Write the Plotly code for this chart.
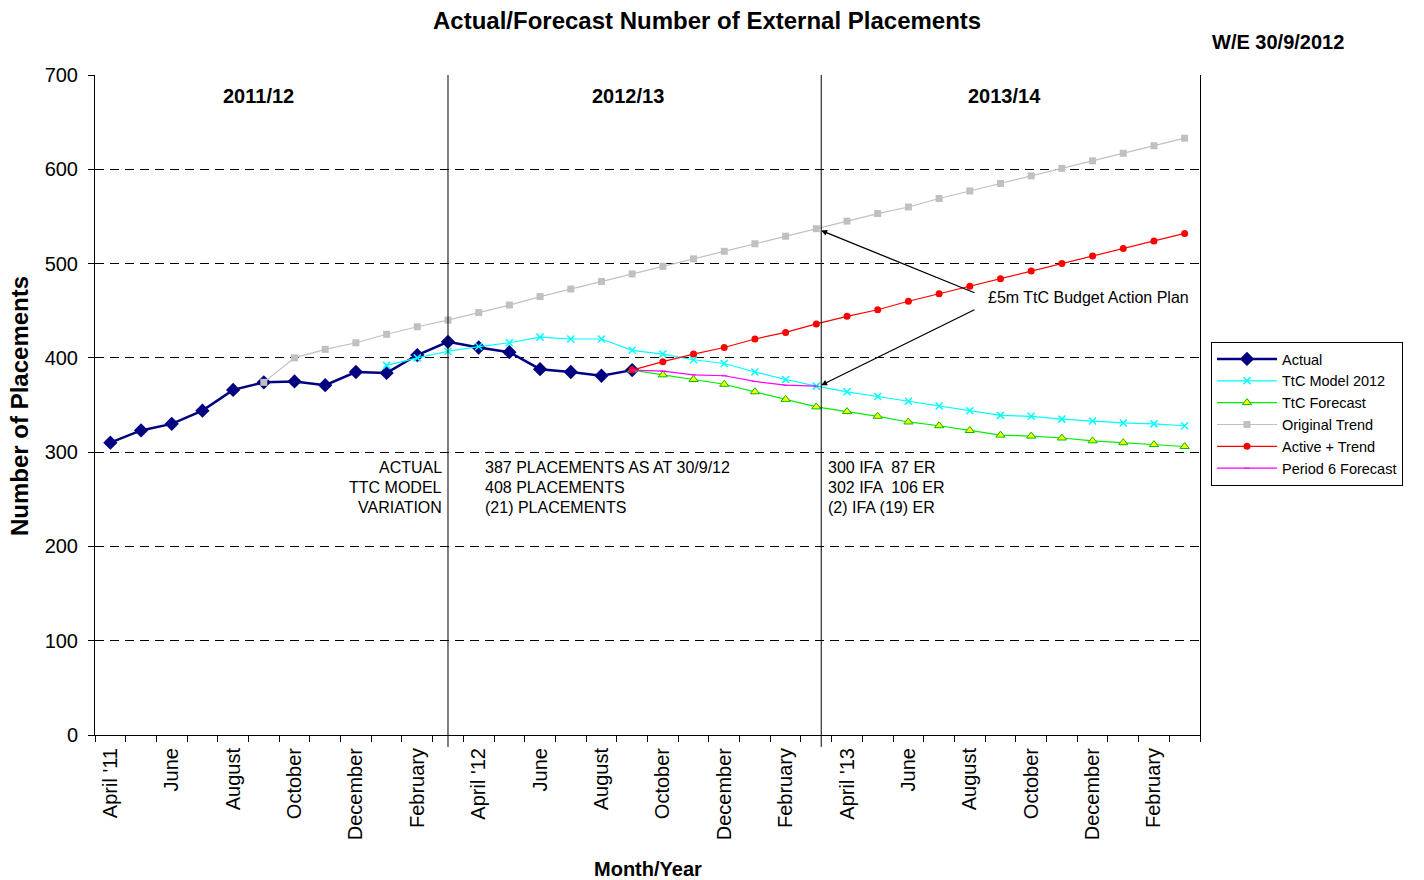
import plotly.graph_objects as go

FONT = "Liberation Sans, Arial, sans-serif"

# ---- data ----
n_months = 36
month_idx = list(range(n_months))
tick_text = ["April '11", "June", "August", "October", "December", "February",
             "April '12", "June", "August", "October", "December", "February",
             "April '13", "June", "August", "October", "December", "February"]
tick_idx = list(range(0, n_months, 2))

N = None
actual = [310, 323, 330, 344, 366, 374, 375, 371, 385, 384, 403, 417,
          411, 406, 388, 385, 381, 387] + [N] * 18
ttc_model = [N] * 9 + [392, 400, 407,
                       412, 416, 422, 420, 420, 408, 404, 398, 394, 385, 377, 370,
                       364, 359, 354, 349, 344, 339, 338, 335, 333, 331, 330, 328]
ttc_forecast = [N] * 17 + [387, 382, 377, 372, 364, 356, 348,
                           343, 338, 332, 328, 323, 318, 317, 315, 312, 310, 308, 306]
original_trend = [N] * 5 + [374, 400, 409, 416, 425, 433, 440,
                            448, 456, 465, 473, 481, 489, 497, 505, 513, 521, 529, 537,
                            545, 553, 560, 569, 577, 585, 593, 601, 609, 617, 625, 633]
active_trend = [N] * 17 + [387, 396, 404, 411, 420, 427, 436,
                           444, 451, 460, 468, 476, 484, 492, 500, 508, 516, 524, 532]
period6 = [N] * 17 + [387, 386, 382, 381, 375, 371, 370] + [N] * 12

year_labels = ["2011/12", "2012/13", "2013/14"]
year_label_x = [4.82, 16.87, 29.12]
year_bounds = [11, 23.16]

summary_left = ["ACTUAL", "TTC MODEL", "VARIATION"]
summary_mid = ["387 PLACEMENTS AS AT 30/9/12", "408 PLACEMENTS", "(21) PLACEMENTS"]
summary_right = ["300 IFA  87 ER", "302 IFA  106 ER", "(2) IFA (19) ER"]
summary_y = [284.2, 262.0, 240.8]

fig = go.Figure()
fig.add_trace(go.Scatter(x=month_idx, y=actual, name="Actual", mode="lines+markers",
                         line=dict(color="#000080", width=2.5),
                         marker=dict(symbol="diamond", size=11, color="#000080")))
fig.add_trace(go.Scatter(x=month_idx, y=ttc_model, name="TtC Model 2012", mode="lines+markers",
                         line=dict(color="#00FFFF", width=1.2),
                         marker=dict(symbol="x-thin", size=7, color="#00FFFF",
                                     line=dict(color="#00FFFF", width=1.5))))
fig.add_trace(go.Scatter(x=month_idx, y=ttc_forecast, name="TtC Forecast", mode="lines+markers",
                         line=dict(color="#00EE00", width=1.2),
                         marker=dict(symbol="triangle-up", size=8, color="#FFFF00",
                                     line=dict(color="#00BB00", width=1))))
fig.add_trace(go.Scatter(x=month_idx, y=original_trend, name="Original Trend", mode="lines+markers",
                         line=dict(color="#C0C0C0", width=1.2),
                         marker=dict(symbol="square", size=7, color="#C0C0C0")))
fig.add_trace(go.Scatter(x=month_idx, y=active_trend, name="Active + Trend", mode="lines+markers",
                         line=dict(color="#FF0000", width=1.2),
                         marker=dict(symbol="circle", size=7, color="#FF0000")))
fig.add_trace(go.Scatter(x=month_idx, y=period6, name="Period 6 Forecast", mode="lines+markers",
                         line=dict(color="#FF00FF", width=1.2),
                         marker=dict(symbol="line-ew", size=4, color="#FF00FF",
                                     line=dict(color="#FF00FF", width=1))))

# year boundary lines
for b in year_bounds:
    fig.add_shape(type="line", xref="x", yref="paper", x0=b, x1=b, y0=-0.018, y1=1,
                  line=dict(color="black", width=1))

annotations = []
for lbl, lx in zip(year_labels, year_label_x):
    annotations.append(dict(x=lx, y=677.7, xref="x", yref="y", text="<b>%s</b>" % lbl,
                            showarrow=False, font=dict(family=FONT, size=20, color="black"),
                            xanchor="center", yanchor="middle"))
for tl, tm, tr, ty in zip(summary_left, summary_mid, summary_right, summary_y):
    annotations.append(dict(x=10.88, y=ty, xref="x", yref="y", text=tl, showarrow=False,
                            xanchor="right", yanchor="middle",
                            font=dict(family=FONT, size=16, color="black")))
    annotations.append(dict(x=12.15, y=ty, xref="x", yref="y", text=tm, showarrow=False,
                            xanchor="left", yanchor="middle",
                            font=dict(family=FONT, size=16, color="black")))
    annotations.append(dict(x=23.32, y=ty, xref="x", yref="y", text=tr, showarrow=False,
                            xanchor="left", yanchor="middle",
                            font=dict(family=FONT, size=16, color="black")))

annotations.append(dict(x=28.53, y=464, xref="x", yref="y", text="£5m TtC Budget Action Plan",
                        showarrow=False, xanchor="left", yanchor="middle",
                        font=dict(family=FONT, size=16, color="black")))
annotations.append(dict(x=23.16, y=535, xref="x", yref="y", ax=28.2, ay=468.4,
                        axref="x", ayref="y", text="", showarrow=True,
                        arrowhead=2, arrowsize=0.9, arrowwidth=1.3, arrowcolor="black"))
annotations.append(dict(x=23.16, y=371, xref="x", yref="y", ax=28.2, ay=451.8,
                        axref="x", ayref="y", text="", showarrow=True,
                        arrowhead=2, arrowsize=0.9, arrowwidth=1.3, arrowcolor="black"))

# header texts
annotations.append(dict(x=(707 - 95) / 1105, y=1 + (75 - 20) / 660, xref="paper", yref="paper",
                        text="<b>Actual/Forecast Number of External Placements</b>",
                        showarrow=False, xanchor="center", yanchor="middle",
                        font=dict(family=FONT, size=24, color="black")))
annotations.append(dict(x=(1278 - 95) / 1105, y=1 + (75 - 42) / 660, xref="paper", yref="paper",
                        text="<b>W/E 30/9/2012</b>",
                        showarrow=False, xanchor="center", yanchor="middle",
                        font=dict(family=FONT, size=20, color="black")))
annotations.append(dict(x=(20 - 95) / 1105, y=(735 - 406) / 660, xref="paper", yref="paper",
                        text="<b>Number of Placements</b>", textangle=-90,
                        showarrow=False, xanchor="center", yanchor="middle",
                        font=dict(family=FONT, size=24, color="black")))
annotations.append(dict(x=(648 - 95) / 1105, y=(735 - 869) / 660, xref="paper", yref="paper",
                        text="<b>Month/Year</b>",
                        showarrow=False, xanchor="center", yanchor="middle",
                        font=dict(family=FONT, size=20, color="black")))

fig.update_layout(
    width=1424, height=880,
    margin=dict(l=95, r=224, t=75, b=145),
    paper_bgcolor="white", plot_bgcolor="white",
    font=dict(family=FONT, size=20, color="black"),
    showlegend=True,
    legend=dict(x=(1211 - 95) / 1105, xanchor="left", y=(735 - 342) / 660, yanchor="top",
                bordercolor="black", borderwidth=1, bgcolor="white",
                font=dict(family=FONT, size=14.5, color="black"),
                tracegroupgap=0, itemwidth=60),
    annotations=annotations,
)

fig.update_xaxes(
    range=[-0.5, 35.5], tickmode="array", tickvals=tick_idx, ticktext=tick_text,
    tickangle=-90, ticks="", showgrid=False, zeroline=False,
    showline=True, linecolor="black", linewidth=1,
    tickfont=dict(family=FONT, size=20, color="black"),
    ticklabelstandoff=4,
    minor=dict(tickmode="array", tickvals=[i - 0.5 for i in range(n_months + 1)],
               ticks="outside", ticklen=6, tickcolor="black", tickwidth=1, showgrid=False),
)
fig.update_yaxes(
    range=[0, 700], tickmode="linear", tick0=0, dtick=100,
    ticks="outside", ticklen=6, tickcolor="black",
    showgrid=True, gridcolor="black", gridwidth=1, griddash="9px,6px",
    zeroline=False, showline=True, linecolor="black", linewidth=1, mirror=True,
    tickfont=dict(family=FONT, size=20, color="black"),
    ticklabelstandoff=6,
)

fig.write_html("out.html", config={"displayModeBar": False},
               post_script="document.body.style.margin='0px';document.body.style.overflow='hidden';")
